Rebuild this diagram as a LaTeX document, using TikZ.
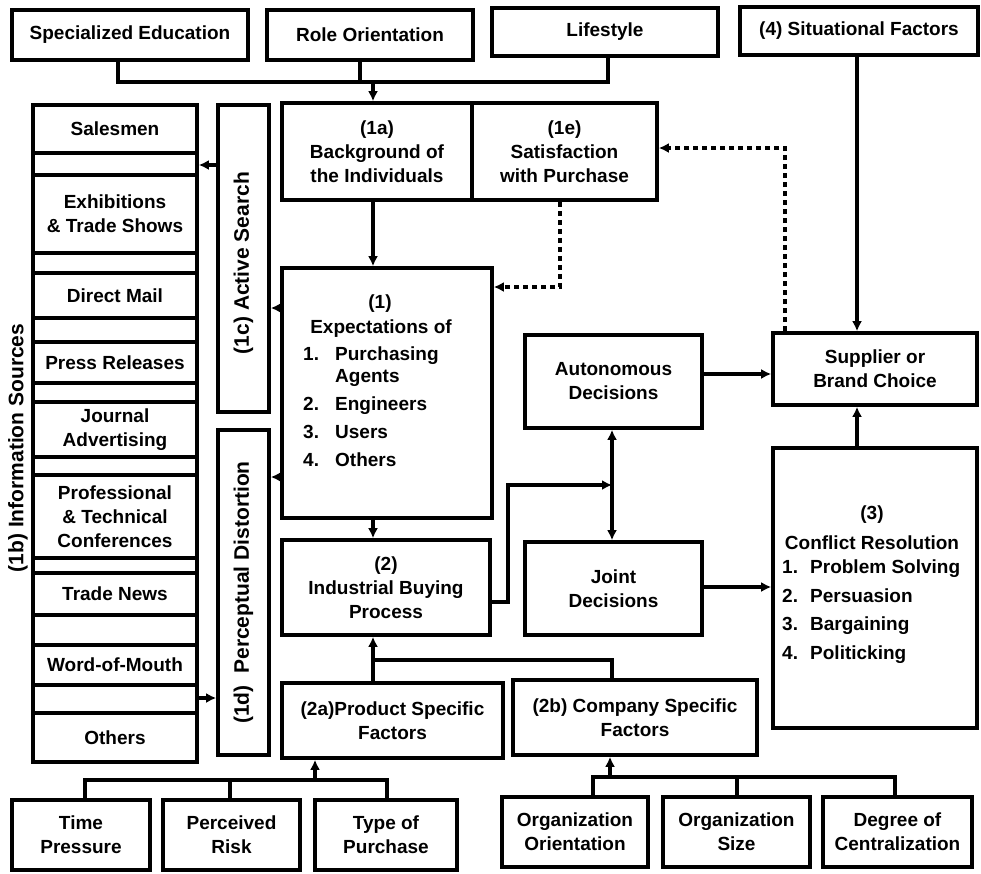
\documentclass[tikz,border=0pt]{standalone}
\usepackage{fontspec}
\setmainfont{Liberation Sans}
\usetikzlibrary{arrows.meta}
\newcommand\lab{\fontsize{19}{24}\selectfont\bfseries}
\newcommand\vlab{\fontsize{21}{24}\selectfont\bfseries}
\begin{document}
\begin{tikzpicture}[x=1pt,y=-1pt,
  box/.style={draw, line width=3.6pt, inner sep=0pt, align=center, font=\lab},
  frame/.style={draw, line width=3.6pt, inner sep=0pt},
  txt/.style={inner sep=0pt, font=\lab},
  conn/.style={line width=3.2pt},
  tip/.style={-{Latex[length=10pt,width=10pt]}},
  bothtips/.style={{Latex[length=10pt,width=10pt]}-{Latex[length=10pt,width=10pt]}},
  feedback/.style={line width=3.2pt, dash pattern=on 5pt off 4pt}]
\useasboundingbox (0,0) rectangle (981,873);

% --- top row: background variables and situational factors
\node[box, minimum width=236, minimum height=50] (se) at (130,35) {Specialized Education};
\node[box, minimum width=206, minimum height=50] (ro) at (370,35) {Role Orientation};
\node[box, minimum width=226, minimum height=48] (ls) at (605,32) {Lifestyle};
\node[box, minimum width=238, minimum height=48] (sf) at (859,31) {(4) Situational Factors};

% --- information sources column
\node[frame, minimum width=164, minimum height=657] (info) at (115,433.5) {};
\node[box, minimum width=164, minimum height=48] (sal) at (115,129) {Salesmen};
\node[box, minimum width=164, minimum height=78] (exh) at (115,214) {Exhibitions\\\& Trade Shows};
\node[box, minimum width=164, minimum height=45] (dm) at (115,295.5) {Direct Mail};
\node[box, minimum width=164, minimum height=41] (pr) at (115,362.5) {Press Releases};
\node[box, minimum width=164, minimum height=55] (ja) at (115,429.5) {Journal\\Advertising};
\node[box, minimum width=164, minimum height=83] (pt) at (115,516.5) {Professional\\\& Technical\\Conferences};
\node[box, minimum width=164, minimum height=42] (tn) at (115,594) {Trade News};
\node[box, minimum width=164, minimum height=40] (wm) at (115,665) {Word-of-Mouth};
\node[box, minimum width=164, minimum height=49] (oth) at (115,737.5) {Others};
\node[inner sep=0pt, font=\vlab, rotate=90] (infolab) at (18,448) {(1b) Information Sources};

% --- active search and perceptual distortion
\node[frame, minimum width=51, minimum height=307] (as) at (243.5,258.5) {};
\node[inner sep=0pt, font=\vlab, rotate=90] (aslab) at (243.5,263) {(1c) Active Search};
\node[frame, minimum width=51, minimum height=325] (pd) at (243.5,592.5) {};
\node[inner sep=0pt, font=\vlab, rotate=90] (pdlab) at (243.5,592.5) {(1d)\ \ Perceptual Distortion};

% --- individual side
\node[box, minimum width=190, minimum height=97] (bg) at (377,151.5) {(1a)\\Background of\\the Individuals};
\node[box, minimum width=185, minimum height=97] (sat) at (564.5,151.5) {(1e)\\Satisfaction\\with Purchase};

\node[frame, minimum width=210, minimum height=250] (exp) at (387,393) {};
\node[txt] (exp1) at (380,304) {(1)};
\node[txt] (exp2) at (381,329) {Expectations of};
\node[txt, anchor=mid west] (exp3) at (303,358) {\makebox[32pt][l]{1.}Purchasing};
\node[txt, anchor=mid west] (exp4) at (303,380) {\makebox[32pt][l]{}Agents};
\node[txt, anchor=mid west] (exp5) at (303,408) {\makebox[32pt][l]{2.}Engineers};
\node[txt, anchor=mid west] (exp6) at (303,436) {\makebox[32pt][l]{3.}Users};
\node[txt, anchor=mid west] (exp7) at (303,464) {\makebox[32pt][l]{4.}Others};

\node[box, minimum width=208, minimum height=95] (ibp) at (386,587.5) {(2)\\Industrial Buying\\Process};

% --- decisions
\node[box, minimum width=177, minimum height=93] (aut) at (613.5,381.5) {Autonomous\\Decisions};
\node[box, minimum width=177, minimum height=93] (joint) at (613.5,588.5) {Joint\\Decisions};

\node[box, minimum width=204, minimum height=72] (sup) at (875,369) {Supplier or\\Brand Choice};

\node[frame, minimum width=204, minimum height=280] (cr) at (875,588) {};
\node[txt] (cr1) at (872,515) {(3)};
\node[txt] (cr2) at (872,543) {Conflict Resolution};
\node[txt, anchor=mid west] (cr3) at (782,571) {\makebox[28pt][l]{1.}Problem Solving};
\node[txt, anchor=mid west] (cr4) at (782,600) {\makebox[28pt][l]{2.}Persuasion};
\node[txt, anchor=mid west] (cr5) at (782,628) {\makebox[28pt][l]{3.}Bargaining};
\node[txt, anchor=mid west] (cr6) at (782,657) {\makebox[28pt][l]{4.}Politicking};

% --- product and company specific factors
\node[box, minimum width=221, minimum height=75] (pa) at (392.5,720.5) {(2a)Product Specific\\Factors};
\node[box, minimum width=244, minimum height=75] (cb) at (635,717.5) {(2b) Company Specific\\Factors};

\node[box, minimum width=138, minimum height=70] (tp) at (81,835) {Time\\Pressure};
\node[box, minimum width=137, minimum height=70] (risk) at (231.5,835) {Perceived\\Risk};
\node[box, minimum width=142, minimum height=70] (typ) at (386,835) {Type of\\Purchase};
\node[box, minimum width=146, minimum height=70] (oo) at (575,832) {Organization\\Orientation};
\node[box, minimum width=147, minimum height=70] (os) at (736.5,832) {Organization\\Size};
\node[box, minimum width=149, minimum height=70] (dc) at (897.5,832) {Degree of\\Centralization};

% --- connectors: background variables
\coordinate (bus) at (373,82);
\draw[conn] (se.south -| 118,0) |- (bus) -| (ls.south -| 608,0);
\draw[conn] (ro.south -| 360,0) -- (bus -| 360,0);
\draw[conn,tip] (bus) -- (bg.north -| bus);

% --- connectors: information processing
\draw[conn,tip] (bg.south -| 373,0) -- (exp.north -| 373,0);
\draw[conn,tip] (exp.south -| 373,0) -- (ibp.north -| 373,0);
\draw[conn,tip] (exp.west |- 0,308) -- (as.east |- 0,308);
\draw[conn,tip] (exp.west |- 0,477) -- (pd.east |- 0,477);
\draw[conn,tip] (as.west |- 0,165) -- (info.east |- 0,165);
\draw[conn,tip] (info.east |- 0,698) -- (pd.west |- 0,698);

% --- feedback loops
\draw[feedback,tip] (sat.south -| 560,0) |- (exp.east |- 0,287);
\draw[feedback,tip] (sup.north -| 785,0) |- (sat.east |- 0,148);

% --- buying process to decisions
\coordinate (split) at (612,485);
\draw[conn,tip] (ibp.east |- 0,602) -| (508,485) -- (split);
\draw[conn,bothtips] (aut.south -| 612,0) -- (joint.north -| 612,0);
\draw[conn,tip] (aut.east |- 0,374) -- (sup.west |- 0,374);
\draw[conn,tip] (joint.east |- 0,587) -- (cr.west |- 0,587);
\draw[conn,tip] (cr.north -| 857,0) -- (sup.south -| 857,0);
\draw[conn,tip] (sf.south -| 857,0) -- (sup.north -| 857,0);

% --- specific factors into the buying process
\coordinate (mj) at (373,660);
\draw[conn,tip] (pa.north -| 373,0) -- (ibp.south -| 373,0);
\draw[conn] (mj) -| (cb.north -| 612,0);

\coordinate (lb) at (315,780);
\draw[conn,tip] (lb) -- (pa.south -| lb);
\draw[conn] (tp.north -| 85,0) |- (lb) -| (typ.north -| 387,0);
\draw[conn] (risk.north -| 230,0) -- (lb -| 230,0);

\coordinate (rb) at (610,777);
\draw[conn,tip] (rb) -- (cb.south -| rb);
\draw[conn] (oo.north -| 593,0) |- (rb) -| (dc.north -| 895,0);
\draw[conn] (os.north -| 737,0) -- (rb -| 737,0);
\end{tikzpicture}
\end{document}
